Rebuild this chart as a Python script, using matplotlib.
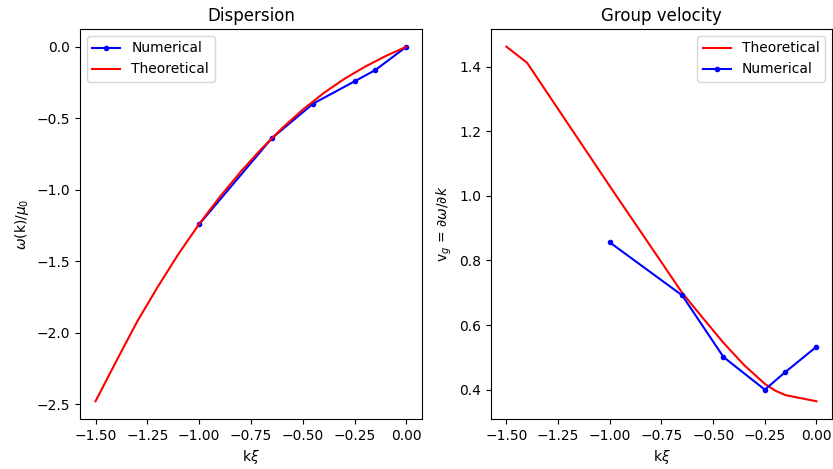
import numpy as np
import matplotlib
matplotlib.use('Agg')
import matplotlib.pyplot as plt

# numerical results
k_num = [-1.0, -0.65, -0.45, -0.25, -0.15, 0.0]
w_num = [-1.242, -0.641, -0.398, -0.242, -0.163, 0.0]
vg_num = [0.856, 0.692, 0.501, 0.400, 0.455, 0.533]

# theoretical dispersion
k_th = [-1.5, -1.4, -1.3, -1.2, -1.1, -1.0, -0.9, -0.8, -0.7, -0.6, -0.5,
        -0.4, -0.3, -0.2, -0.1, 0.0]
w_th = [-2.48, -2.20, -1.925, -1.68, -1.45, -1.24, -1.05, -0.875, -0.715, -0.57,
        -0.44, -0.325, -0.225, -0.14, -0.065, 0.0]

# theoretical group velocity
k_vg = [-1.5, -1.4, -1.0, -0.65, -0.55, -0.45, -0.35, -0.25, -0.2, -0.15, 0.0]
vg_th = [1.462, 1.412, 1.03, 0.70, 0.622, 0.545, 0.476, 0.418, 0.397, 0.383, 0.364]

fig = plt.figure(figsize=(8.33, 4.69), dpi=100)
ax1 = fig.add_axes([0.096, 0.1066, 0.4106, 0.8316])
ax2 = fig.add_axes([0.5894, 0.1066, 0.4094, 0.8316])

ax1.plot(k_num, w_num, 'b.-', label='Numerical')
ax1.plot(k_th, w_th, 'r-', label='Theoretical')
ax1.set_title('Dispersion')
ax1.set_xlabel(r'k$\xi$')
ax1.set_ylabel(r'$\omega$(k)/$\mu_0$')
ax1.legend(loc='upper left')

ax2.plot(k_vg, vg_th, 'r-', label='Theoretical')
ax2.plot(k_num, vg_num, 'b.-', label='Numerical')
ax2.set_title('Group velocity')
ax2.set_xlabel(r'k$\xi$')
ax2.set_ylabel(r'v$_g$ = $\partial\omega/\partial k$')
ax2.legend(loc='upper right')

plt.savefig('out.png')
